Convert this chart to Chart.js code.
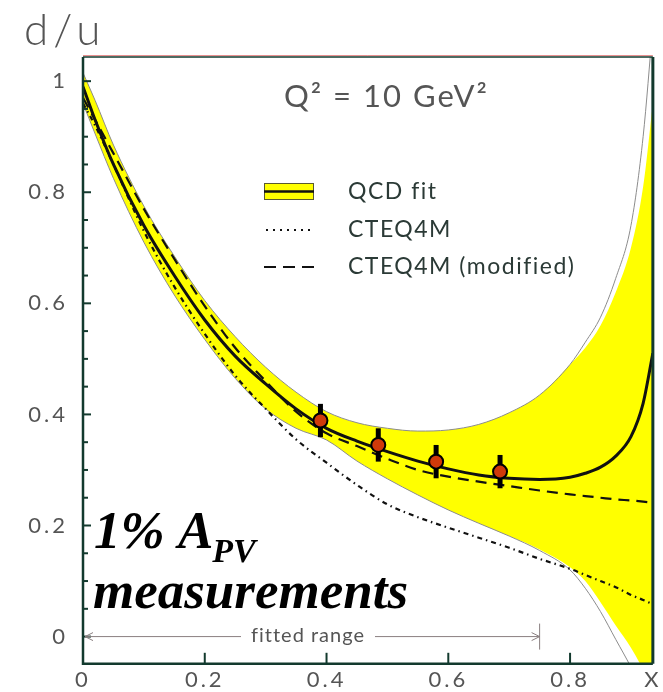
<!DOCTYPE html>
<html>
<head>
<meta charset="utf-8">
<script src="https://cdn.jsdelivr.net/npm/chart.js@4.4.1/dist/chart.umd.min.js"></script>
<style>
  html, body { margin: 0; padding: 0; background: #fff; }
  #wrap { width: 663px; height: 692px; }
</style>
</head>
<body>
<div id="wrap"><canvas id="duChart" width="663" height="692"></canvas></div>
<script>
// x grid shared by all curves
const xGrid = [0, 0.02, 0.05, 0.1, 0.15, 0.2, 0.25, 0.3, 0.35, 0.4, 0.45, 0.5, 0.55, 0.6, 0.65, 0.7, 0.75, 0.8, 0.825, 0.85, 0.875, 0.9, 0.92, 0.936];

// d/u curves at Q^2 = 10 GeV^2
const qcdFit    = [0.99, 0.93, 0.85, 0.74, 0.65, 0.57, 0.505, 0.455, 0.41, 0.375, 0.352, 0.333, 0.316, 0.302, 0.291, 0.285, 0.283, 0.287, 0.294, 0.305, 0.325, 0.36, 0.42, 0.51];
const cteq4m    = [0.96, 0.92, 0.85, 0.73, 0.63, 0.545, 0.47, 0.41, 0.355, 0.313, 0.273, 0.238, 0.215, 0.196, 0.178, 0.16, 0.14, 0.122, 0.111, 0.1, 0.089, 0.075, 0.066, 0.058];
const cteq4mMod = [0.97, 0.93, 0.87, 0.77, 0.68, 0.595, 0.52, 0.46, 0.405, 0.366, 0.343, 0.32, 0.30, 0.288, 0.279, 0.271, 0.263, 0.256, 0.253, 0.25, 0.247, 0.245, 0.243, 0.241];

// error band of the QCD fit (yellow area) and its thin outline
const bandUpper = [1.015, 0.965, 0.885, 0.775, 0.685, 0.605, 0.54, 0.485, 0.44, 0.405, 0.385, 0.375, 0.37, 0.372, 0.382, 0.403, 0.435, 0.49, 0.52, 0.56, 0.62, 0.70, 0.81, 0.96];
const bandLower = [0.96, 0.905, 0.825, 0.71, 0.615, 0.535, 0.465, 0.41, 0.375, 0.354, 0.316, 0.284, 0.255, 0.228, 0.204, 0.181, 0.157, 0.125, 0.1, 0.062, 0.02, -0.02, -0.06, -0.1];
const edgeUpper = [1.015, 0.965, 0.885, 0.775, 0.685, 0.605, 0.54, 0.485, 0.44, 0.405, 0.385, 0.375, 0.37, 0.372, 0.382, 0.403, 0.435, 0.49, 0.53, 0.575, 0.645, 0.74, 0.9, 1.1];
const edgeLower = [0.96, 0.905, 0.825, 0.71, 0.615, 0.535, 0.465, 0.41, 0.375, 0.354, 0.316, 0.284, 0.255, 0.228, 0.204, 0.181, 0.155, 0.12, 0.087, 0.045, -0.005, -0.055, -0.1, -0.15];

// projected 1% A_PV points
const pvX   = [0.39, 0.485, 0.58, 0.685];
const pvY   = [0.389, 0.345, 0.315, 0.297];
const pvErr = [0.03, 0.03, 0.03, 0.03];

// axis
const xTicks = [0, 0.2, 0.4, 0.6, 0.8, 0.936];
const xTickLabels = ['0', '0.2', '0.4', '0.6', '0.8', 'X'];
const yTicks = [0, 0.2, 0.4, 0.6, 0.8, 1];
const yTickLabels = ['0', '0.2', '0.4', '0.6', '0.8', '1'];
const fittedRange = [0, 0.75];

const axisColor = '#133a2e';
const labelColor = '#555';
const sans = 'Lato, "DejaVu Sans", sans-serif';

function pts(xs, ys) {
    return xs.map((x, i) => ({ x: x, y: ys[i] }));
}

function curve(data, extra) {
    return Object.assign({
        data: data,
        pointRadius: 0,
        borderColor: '#111',
        borderWidth: 2,
        fill: false,
        clip: 0,
        cubicInterpolationMode: 'monotone'
    }, extra);
}

// inner tick marks, frame, error bars and text
const decorations = {
    id: 'decorations',
    beforeDraw(chart) {
        // wide tracking for the tick labels
        chart.ctx.letterSpacing = '3px';
    },
    beforeDatasetsDraw(chart) {
        chart.ctx.letterSpacing = '0px';
    },
    beforeDatasetDraw(chart, args) {
        if (args.index !== 0) return;
        const ctx = chart.ctx;
        const xs = chart.scales.x, ys = chart.scales.y;
        ctx.save();
        ctx.strokeStyle = '#000';
        ctx.lineWidth = 5;
        pvX.forEach((x, i) => {
            const px = xs.getPixelForValue(x);
            ctx.beginPath();
            ctx.moveTo(px, ys.getPixelForValue(pvY[i] - pvErr[i]));
            ctx.lineTo(px, ys.getPixelForValue(pvY[i] + pvErr[i]));
            ctx.stroke();
        });
        ctx.restore();
    },
    afterDraw(chart) {
        const ctx = chart.ctx;
        const a = chart.chartArea;
        const xs = chart.scales.x, ys = chart.scales.y;
        ctx.save();
        ctx.letterSpacing = '0px';

        // frame
        ctx.strokeStyle = '#e89090';
        ctx.lineWidth = 1;
        ctx.beginPath();
        ctx.moveTo(a.left, a.top - 1.5);
        ctx.lineTo(a.right, a.top - 1.5);
        ctx.stroke();
        ctx.strokeStyle = axisColor;
        ctx.lineWidth = 1.5;
        ctx.beginPath();
        ctx.moveTo(a.left, a.top);
        ctx.lineTo(a.right, a.top);
        ctx.stroke();
        ctx.lineWidth = 2.5;
        ctx.beginPath();
        ctx.moveTo(a.left, a.top);
        ctx.lineTo(a.left, a.bottom);
        ctx.lineTo(a.right, a.bottom);
        ctx.stroke();
        ctx.lineWidth = 3;
        ctx.beginPath();
        ctx.moveTo(a.right, a.top);
        ctx.lineTo(a.right, a.bottom);
        ctx.stroke();

        // y ticks, major and minor
        ctx.lineWidth = 2;
        for (let k = 0; k <= 20; k++) {
            const py = ys.getPixelForValue(k * 0.05);
            const len = (k % 4 === 0) ? 8 : 5;
            ctx.beginPath();
            ctx.moveTo(a.left, py);
            ctx.lineTo(a.left + len, py);
            ctx.stroke();
        }
        // x ticks
        xTicks.slice(1, -1).forEach(v => {
            const px = xs.getPixelForValue(v);
            ctx.beginPath();
            ctx.moveTo(px, a.bottom);
            ctx.lineTo(px, a.bottom - 11);
            ctx.stroke();
        });

        // fitted range arrow
        const y0 = ys.getPixelForValue(0);
        const xa = xs.getPixelForValue(fittedRange[0]) + 2;
        const xb = xs.getPixelForValue(fittedRange[1]);
        ctx.strokeStyle = '#8a7f80';
        ctx.lineWidth = 1;
        ctx.font = '20px ' + sans;
        ctx.letterSpacing = '1px';
        const label = 'fitted range';
        const tw = ctx.measureText(label).width;
        const mid = 308;
        ctx.beginPath();
        ctx.moveTo(xa, y0);
        ctx.lineTo(mid - tw / 2 - 10, y0);
        ctx.moveTo(mid + tw / 2 + 10, y0);
        ctx.lineTo(xb, y0);
        ctx.moveTo(xa + 8, y0 - 4);
        ctx.lineTo(xa, y0);
        ctx.lineTo(xa + 8, y0 + 4);
        ctx.moveTo(xb - 8, y0 - 4);
        ctx.lineTo(xb, y0);
        ctx.lineTo(xb - 8, y0 + 4);
        ctx.moveTo(xb, y0 - 13);
        ctx.lineTo(xb, y0 + 13);
        ctx.stroke();
        ctx.fillStyle = '#555';
        ctx.textAlign = 'center';
        ctx.textBaseline = 'middle';
        ctx.fillText(label, mid, y0 - 1);

        // axis title and Q^2 label
        ctx.fillStyle = labelColor;
        ctx.textAlign = 'left';
        ctx.textBaseline = 'alphabetic';
        ctx.font = '300 44px ' + sans;
        ctx.letterSpacing = '5px';
        ctx.fillText('d/u', 24, 45);
        ctx.font = '31px ' + sans;
        ctx.letterSpacing = '2px';
        ctx.fillText('Q² = 10 GeV²', 284, 107);

        // legend
        ctx.letterSpacing = '0px';
        ctx.fillStyle = '#ffff00';
        ctx.fillRect(264, 183, 50, 17);
        ctx.strokeStyle = '#5a5a30';
        ctx.lineWidth = 1;
        ctx.strokeRect(264.5, 183.5, 49, 16);
        ctx.strokeStyle = '#111';
        ctx.lineWidth = 2.5;
        ctx.beginPath();
        ctx.moveTo(264, 191.5);
        ctx.lineTo(314, 191.5);
        ctx.stroke();
        ctx.lineWidth = 2;
        ctx.setLineDash([2, 5]);
        ctx.beginPath();
        ctx.moveTo(266, 230);
        ctx.lineTo(314, 230);
        ctx.stroke();
        ctx.setLineDash([12, 7]);
        ctx.beginPath();
        ctx.moveTo(264, 267);
        ctx.lineTo(314, 267);
        ctx.stroke();
        ctx.setLineDash([]);
        ctx.fillStyle = '#2b3a36';
        ctx.font = '23px ' + sans;
        ctx.letterSpacing = '1.5px';
        ctx.textBaseline = 'middle';
        ctx.fillText('QCD fit', 348, 192);
        ctx.fillText('CTEQ4M', 348, 230);
        ctx.fillText('CTEQ4M (modified)', 348, 267);

        // annotation
        ctx.letterSpacing = '0px';
        ctx.fillStyle = '#000';
        ctx.textBaseline = 'alphabetic';
        ctx.font = 'italic bold 53px "Liberation Serif", serif';
        ctx.fillText('1% A', 94, 548);
        const w1 = ctx.measureText('1% A').width;
        ctx.font = 'italic bold 34px "Liberation Serif", serif';
        ctx.fillText('PV', 94 + w1 - 1, 562);
        ctx.font = 'italic bold 53px "Liberation Serif", serif';
        ctx.fillText('measurements', 93, 608);

        ctx.restore();
    }
};

const ctx = document.getElementById('duChart').getContext('2d');
new Chart(ctx, {
    type: 'line',
    data: {
        datasets: [
            {
                data: pts(pvX, pvY),
                showLine: false,
                pointRadius: 7,
                pointBackgroundColor: '#d03a0a',
                pointBorderColor: '#000',
                pointBorderWidth: 2,
                clip: 0
            },
            curve(pts(xGrid, qcdFit), { borderWidth: 3 }),
            curve(pts(xGrid, cteq4mMod), { borderDash: [11, 7], borderWidth: 2.2 }),
            curve(pts(xGrid, cteq4m), { borderDash: [5, 4, 1.5, 4], borderWidth: 2.2 }),
            curve(pts(xGrid, edgeUpper), { borderColor: '#8c8c8c', borderWidth: 1 }),
            curve(pts(xGrid, edgeLower), { borderColor: '#8c8c8c', borderWidth: 1 }),
            curve(pts(xGrid, bandUpper), { borderWidth: 0, borderColor: 'rgba(0,0,0,0)', backgroundColor: '#ffff00', fill: '+1' }),
            curve(pts(xGrid, bandLower), { borderWidth: 0, borderColor: 'rgba(0,0,0,0)' })
        ]
    },
    options: {
        responsive: false,
        animation: false,
        layout: { padding: { left: 0, top: 57, right: 3, bottom: 0 } },
        plugins: {
            legend: { display: false },
            tooltip: { enabled: false }
        },
        scales: {
            x: {
                type: 'linear',
                min: 0,
                max: 0.936,
                grid: { display: false, drawTicks: false },
                border: { display: false },
                afterFit(scale) { scale.height = 25; },
                afterBuildTicks(scale) { scale.ticks = xTicks.map(v => ({ value: v })); },
                ticks: {
                    autoSkip: false,
                    maxRotation: 0,
                    padding: 3,
                    color: labelColor,
                    font: { family: sans, size: 22 },
                    callback: (v) => xTickLabels[xTicks.indexOf(v)]
                }
            },
            y: {
                type: 'linear',
                min: -0.049,
                max: 1.0435,
                grid: { display: false, drawTicks: false },
                border: { display: false },
                afterFit(scale) { scale.width = 83; },
                afterBuildTicks(scale) { scale.ticks = yTicks.map(v => ({ value: v })); },
                ticks: {
                    padding: 15,
                    color: labelColor,
                    font: { family: sans, size: 22 },
                    callback: (v) => yTickLabels[yTicks.indexOf(v)]
                }
            }
        }
    },
    plugins: [decorations]
});
</script>
</body>
</html>
